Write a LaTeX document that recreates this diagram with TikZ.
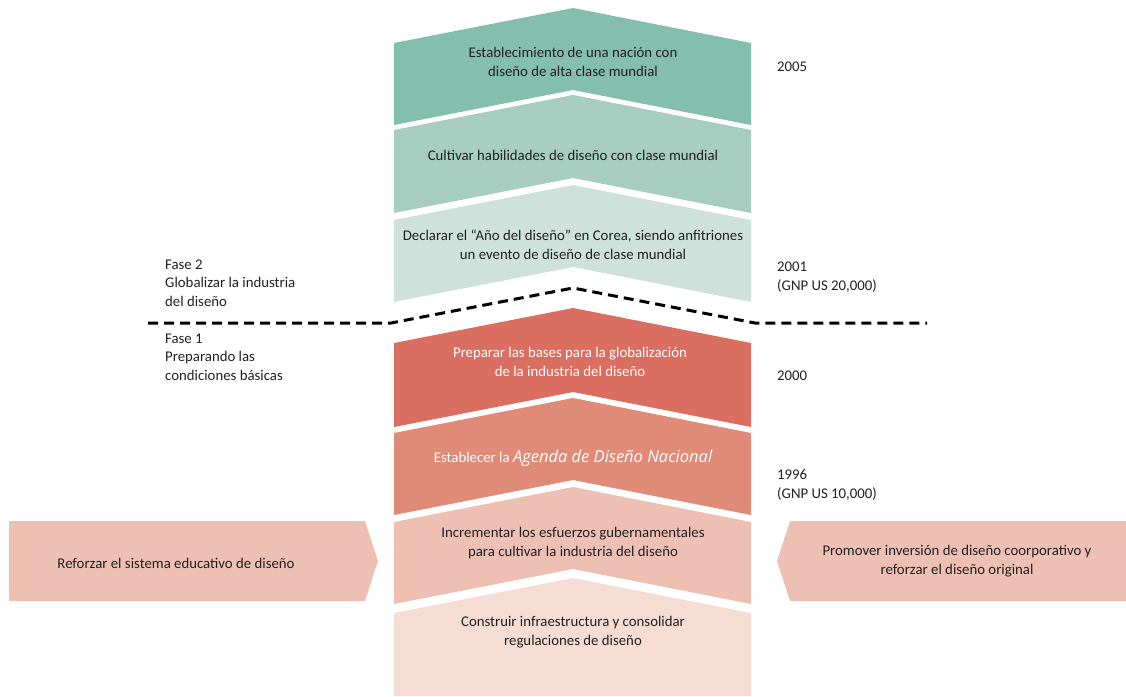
\documentclass[tikz,border=0pt]{standalone}
\usepackage{fontspec}
\setmainfont{Carlito}
\newfontfamily\agendafont{Open Sans}
\definecolor{cA}{HTML}{84BEAC}
\definecolor{cB}{HTML}{A6CDBF}
\definecolor{cC}{HTML}{CEE2DB}
\definecolor{rA}{HTML}{DA6E60}
\definecolor{rB}{HTML}{E08A78}
\definecolor{rC}{HTML}{EEC0B4}
\definecolor{rD}{HTML}{F5DDD4}
\definecolor{txt}{HTML}{231F20}
\newcommand\chevshape[3]{\fill[#3] (394,#1) -- (573,#1-35) -- (751,#1) -- (751,#2) -- (573,#2-35) -- (394,#2) -- cycle;}
\begin{document}
\begin{tikzpicture}[x=1pt,y=-1pt,
  lbl/.style={font=\fontsize{14.8}{19}\selectfont, text=txt, align=center, inner sep=0pt},
  side/.style={font=\fontsize{14.8}{18.6}\selectfont, text=txt, align=left, inner sep=0pt, anchor=west},
  divider/.style={line width=3pt, dash pattern=on 10pt off 6pt, draw=black}]
\useasboundingbox (0,0) rectangle (1126,696);
% green chevrons
\chevshape{43}{125}{cA}
\chevshape{130}{213}{cB}
\chevshape{220}{302}{cC}
% red chevrons
\chevshape{343}{427}{rA}
\chevshape{433}{515}{rB}
\chevshape{522}{604}{rC}
\fill[rD] (394,613) -- (573,578) -- (751,613) -- (751,696) -- (394,696) -- cycle;
% side arrows
\fill[rC] (9,521) -- (365,521) -- (378,561) -- (365,601) -- (9,601) -- cycle;
\fill[rC] (790,521) -- (1126,521) -- (1126,601) -- (790,601) -- (777,561) -- cycle;
% texts
\node[lbl] (t1) at (573,62) {Establecimiento de una nación con\\diseño de alta clase mundial};
\node[lbl] (t2) at (573,155) {Cultivar habilidades de diseño con clase mundial};
\node[lbl] (t3) at (573,245) {Declarar el “Año del diseño” en Corea, siendo anfitriones\\un evento de diseño de clase mundial};
\node[lbl, text=white] (t4) at (570,362) {Preparar las bases para la globalización\\de la industria del diseño};
\node[lbl, text=white] (t5) at (573,458) {Establecer la {\agendafont\itshape\fontsize{16.5}{19}\selectfont Agenda de Diseño Nacional}};
\node[lbl] (t6) at (573,543) {Incrementar los esfuerzos gubernamentales\\para cultivar la industria del diseño};
\node[lbl] (t7) at (573,632) {Construir infraestructura y consolidar\\regulaciones de diseño};
\node[lbl] (sl) at (176,563) {Reforzar el sistema educativo de diseño};
\node[lbl] (sr) at (957,561) {Promover inversión de diseño coorporativo y\\reforzar el diseño original};
% left phase labels
\node[side] (f2) at (165,283) {Fase 2\\Globalizar la industria\\del diseño};
\node[side] (f1) at (165,357) {Fase 1\\Preparando las\\condiciones básicas};
% right year labels
\node[side] (y05) at (777,67) {2005};
\node[side] (y01) at (777,277) {2001\\(GNP US 20,000)};
\node[side] (y00) at (777,376) {2000};
\node[side] (y96) at (777,485) {1996\\(GNP US 10,000)};
% phase divider
\coordinate (dA) at (148,323);
\coordinate (dB) at (391,323);
\coordinate (dC) at (573,288);
\coordinate (dD) at (755,323);
\coordinate (dE) at (927,323);
\draw[divider] (dA) -- (dB) -- (dC) -- (dD) -- (dE);
\end{tikzpicture}
\end{document}
